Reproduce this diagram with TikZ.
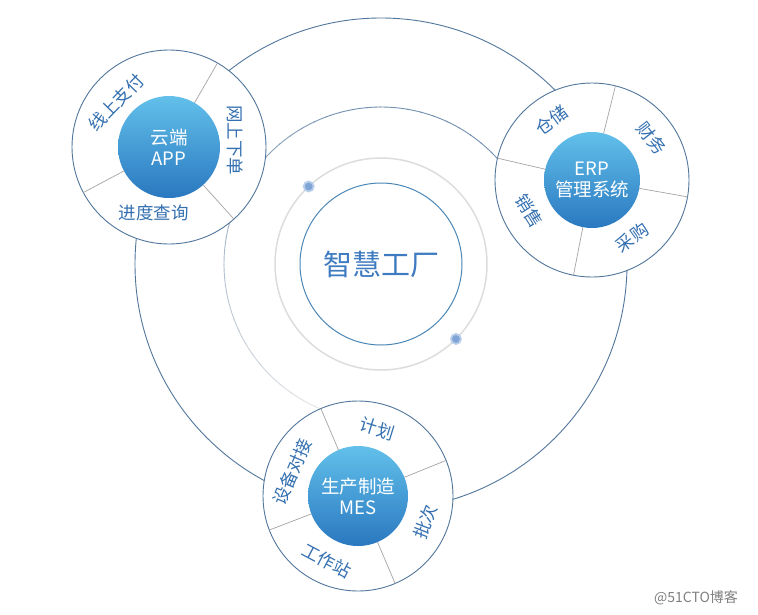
\documentclass[tikz,border=0pt]{standalone}
\usepackage{fontspec}
\setmainfont{Noto Sans CJK SC}
\definecolor{ringc}{HTML}{52779C}
\definecolor{divc}{HTML}{A8A3A3}
\definecolor{lblc}{HTML}{3470B0}
\definecolor{topc}{HTML}{62C0EA}
\definecolor{botc}{HTML}{2A78C0}
\definecolor{midc}{HTML}{7391B0}
\definecolor{fadec}{HTML}{E8E8E8}
\definecolor{grayring}{HTML}{DDDDDD}
\definecolor{corec}{HTML}{4A86B6}
\definecolor{titlec}{HTML}{3E7BC0}
\definecolor{dotc}{HTML}{7FA5D6}
\definecolor{dotr}{HTML}{B8CEEA}
\definecolor{markc}{HTML}{808080}
\tikzset{
  ring/.style={circle, draw=ringc, line width=0.9pt, fill=white, inner sep=0pt, outer sep=0pt},
  hub/.style={circle, inner sep=0pt, outer sep=0pt, top color=topc, bottom color=botc, draw=none,
    text=white, align=center, font=\fontsize{18.5}{21}\selectfont},
  seg/.style={draw=divc, line width=0.7pt},
  lbl/.style={text=lblc, font=\fontsize{17.5}{17.5}\selectfont, inner sep=0pt},
  dotnode/.style={circle, fill=dotc, draw=dotr, line width=1.8pt, minimum size=10pt, inner sep=0pt},
}
\begin{document}
\begin{tikzpicture}[x=1pt,y=1pt]
\useasboundingbox[fill=white] (0,0) rectangle (758,-614);
% big orbit
\node[circle, draw=ringc, line width=0.9pt, minimum size=492pt, inner sep=0pt, outer sep=0pt] (big) at (381,-264) {};
% medium fading arc
\foreach \a in {30,35,...,245}{
  \pgfmathtruncatemacro\p{min(100,(250-\a)/1.5)}
  \draw[draw=midc!\p!fadec, line width=0.9pt] (381,-264) ++(\a:157) arc[start angle=\a, end angle=\a+5.5, radius=157];
}
% halo and core
\node[circle, draw=grayring, line width=1.5pt, minimum size=212pt, inner sep=0pt, outer sep=0pt] (halo) at (381,-264) {};
\node[circle, draw=corec, line width=1pt, minimum size=162pt, inner sep=0pt, text=titlec,
  font=\fontsize{29}{29}\selectfont] (core) at (381,-264) {智慧工厂};
\node[dotnode] (d1) at (halo.133) {};
\node[dotnode] (d2) at (halo.-45) {};
% APP satellite
\node[ring, minimum size=194pt] (appO) at (169,-147) {};
\node[hub, minimum size=102pt] (appI) at (169,-147) {云端\\APP};
\foreach \a in {60,208,312} \draw[seg] (appI.\a) -- (appO.\a);
\node[lbl, rotate=46] (a1) at ([shift={(140:69)}]appO.center) {线上支付};
\node[lbl, rotate=-90] (a2) at ([shift={(6:66)}]appO.center) {网上下单};
\node[lbl] (a3) at ([shift={(257:68)}]appO.center) {进度查询};
% ERP satellite
\node[ring, minimum size=194pt] (erpO) at (592,-180) {};
\node[hub, minimum size=96pt] (erpI) at (592,-180) {ERP\\管理系统};
\foreach \a in {76,167,259,350} \draw[seg] (erpI.\a) -- (erpO.\a);
\node[lbl, rotate=36] (e1) at ([shift={(124:72)}]erpO.center) {仓储};
\node[lbl, rotate=-52] (e2) at ([shift={(35:73)}]erpO.center) {财务};
\node[lbl, rotate=36] (e3) at ([shift={(305:70)}]erpO.center) {采购};
\node[lbl, rotate=-58] (e4) at ([shift={(206:70)}]erpO.center) {销售};
% MES satellite
\node[ring, minimum size=190pt] (mesO) at (358,-496) {};
\node[hub, minimum size=100pt] (mesI) at (358,-496) {生产制造\\MES};
\foreach \a in {113,22,293,201} \draw[seg] (mesI.\a) -- (mesO.\a);
\node[lbl, rotate=-17] (m1) at ([shift={(74:70)}]mesO.center) {计划};
\node[lbl, rotate=69] (m2) at ([shift={(339:72)}]mesO.center) {批次};
\node[lbl, rotate=-28] (m3) at ([shift={(244:72)}]mesO.center) {工作站};
\node[lbl, rotate=67] (m4) at ([shift={(160:70)}]mesO.center) {设备对接};
% watermark
\node[text=markc, font=\fontsize{14}{14}\selectfont, inner sep=0pt] (wm) at (696,-598) {@51CTO博客};
\end{tikzpicture}
\end{document}
